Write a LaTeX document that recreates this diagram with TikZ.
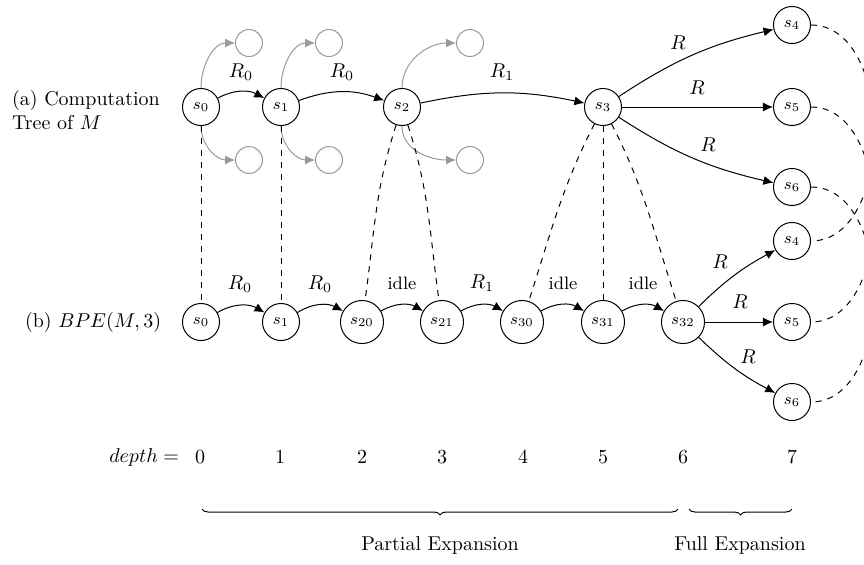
\documentclass[tikz,border=0pt]{standalone}
\usetikzlibrary{arrows.meta,decorations.pathreplacing}
\begin{document}
\begin{tikzpicture}[x=0.5pt,y=-0.5pt,
  st/.style={circle,draw,line width=0.5pt,minimum size=18pt,inner sep=3.33pt,font=\footnotesize},
  ghost/.style={circle,draw=black!40,line width=0.5pt,minimum size=13.5pt,inner sep=0pt},
  arr/.style={-{Latex[length=5pt,width=4.5pt]},line width=0.5pt},
  garr/.style={arr,black!40},
  dsh/.style={dashed,line width=0.5pt},
  lab/.style={inner sep=1pt},
  idl/.style={inner sep=1pt,font=\small},
  brc/.style={decorate,decoration={brace,mirror,amplitude=3pt},line width=0.5pt}]
\useasboundingbox (0,0) rectangle (864,564);

% (a) computation tree
\node[st] (a0) at (201,107) {$s_0$};
\node[st] (a1) at (281,107) {$s_1$};
\node[st] (a2) at (402,107) {$s_2$};
\node[st] (a3) at (603,107) {$s_3$};
\node[st] (a4) at (792,25) {$s_4$};
\node[st] (a5) at (792,107) {$s_5$};
\node[st] (a6) at (792,187) {$s_6$};

\node[ghost] (g0u) at (249,43) {};
\node[ghost] (g0d) at (249,160) {};
\node[ghost] (g1u) at (329,43) {};
\node[ghost] (g1d) at (329,160) {};
\node[ghost] (g2u) at (470,43) {};
\node[ghost] (g2d) at (470,160) {};

\draw[garr] (a0) to[out=90,in=180] (g0u);
\draw[garr] (a0) to[out=-90,in=180] (g0d);
\draw[garr] (a1) to[out=90,in=180] (g1u);
\draw[garr] (a1) to[out=-90,in=180] (g1d);
\draw[garr] (a2) to[out=90,in=180] (g2u);
\draw[garr] (a2) to[out=-90,in=180] (g2d);

\draw[arr] (a0) to[bend left=28] (a1);
\draw[arr] (a1) to[bend left=20] (a2);
\draw[arr] (a2) to[bend left=12] (a3);
\draw[arr] (a3) to[bend left=10] (a4);
\draw[arr] (a3) -- (a5);
\draw[arr] (a3) to[bend right=10] (a6);

\node[lab] (la1) at (241,72) {$R_0$};
\node[lab] (la2) at (342,72) {$R_0$};
\node[lab] (la3) at (502,72) {$R_1$};
\node[lab] (la4) at (678,43) {$R$};
\node[lab] (la5) at (697,88) {$R$};
\node[lab] (la6) at (708,145) {$R$};

\node[anchor=west,align=left] (ta) at (5,110) {(a) Computation\\Tree of $M$};

% (b) BPE
\node[st] (b0) at (201,322) {$s_0$};
\node[st] (b1) at (281,322) {$s_1$};
\node[st] (b20) at (362,322) {$s_{20}$};
\node[st] (b21) at (442,322) {$s_{21}$};
\node[st] (b30) at (522,322) {$s_{30}$};
\node[st] (b31) at (603,322) {$s_{31}$};
\node[st] (b32) at (683,322) {$s_{32}$};
\node[st] (b4) at (792,241) {$s_4$};
\node[st] (b5) at (792,322) {$s_5$};
\node[st] (b6) at (792,402) {$s_6$};

\draw[arr] (b0) to[bend left=30] (b1);
\draw[arr] (b1) to[bend left=30] (b20);
\draw[arr] (b20) to[bend left=30] (b21);
\draw[arr] (b21) to[bend left=30] (b30);
\draw[arr] (b30) to[bend left=30] (b31);
\draw[arr] (b31) to[bend left=30] (b32);
\draw[arr] (b32) to[bend left=8] (b4);
\draw[arr] (b32) -- (b5);
\draw[arr] (b32) to[bend right=8] (b6);

\node[lab] (lb1) at (240,284) {$R_0$};
\node[lab] (lb2) at (320,284) {$R_0$};
\node[idl] (lb3) at (402,283) {idle};
\node[lab] (lb4) at (482,283) {$R_1$};
\node[idl] (lb5) at (563,283) {idle};
\node[idl] (lb6) at (643,283) {idle};
\node[lab] (lb7) at (720,262) {$R$};
\node[lab] (lb8) at (740,302) {$R$};
\node[lab] (lb9) at (748,357) {$R$};

\node[anchor=west] (tb) at (18,322) {(b) $BPE(M,3)$};

% correspondences
\draw[dsh] (a0) -- (b0);
\draw[dsh] (a1) -- (b1);
\draw[dsh] (a2) to[out=-108,in=82] (b20);
\draw[dsh] (a2) to[out=-72,in=98] (b21);
\draw[dsh] (a3) to[out=-117,in=72] (b30);
\draw[dsh] (a3) -- (b31);
\draw[dsh] (a3) to[out=-63,in=108] (b32);
\begin{scope}
\clip (0,0) rectangle (864,564);
\draw[dsh] (a4) to[out=0,in=0] (b4);
\draw[dsh] (a5) to[out=0,in=0] (b5);
\draw[dsh] (a6) to[out=0,in=0] (b6);
\end{scope}

% depth row
\node[anchor=east] (dl) at (186,457) {$depth =$};
\node (d0) at (200,457) {0};
\node (d1) at (280,457) {1};
\node (d2) at (362,457) {2};
\node (d3) at (442,457) {3};
\node (d4) at (523,457) {4};
\node (d5) at (603,457) {5};
\node (d6) at (683,457) {6};
\node (d7) at (792,457) {7};

\coordinate (p1) at (202,509);
\coordinate (p2) at (678,509);
\coordinate (f1) at (689,509);
\coordinate (f2) at (792,509);
\draw[brc] (p1) -- (p2);
\draw[brc] (f1) -- (f2);
\node (pe) at (440,545) {Partial Expansion};
\node (fe) at (740,545) {Full Expansion};
\end{tikzpicture}
\end{document}
